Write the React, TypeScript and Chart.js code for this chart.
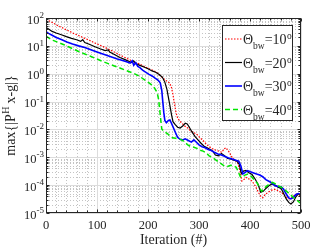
import React, { useEffect, useRef } from 'react';
import { Chart, registerables } from 'chart.js';
Chart.register(...registerables);

// ---------- data ----------
const X_TICKS = [0, 100, 200, 300, 400, 500];
const Y_DECADES = [-5, -4, -3, -2, -1, 0, 1, 2];
const LEGEND_ANGLES = ['10', '20', '30', '40'];

const ITER_10 = [0,8,16,25,35,45,55,65,75,85,95,105,115,125,135,145,155,165,175,180,185,195,205,212,218,225,232,238,243,246,249,252,255,258,262,267,272,278,284,290,296,302,308,314,320,327,333,339,345,349,353,358,364,370,376,380,384,388,392,398,404,410,415,420,425,430,436,443,450,457,463,469,475,480,486,492,497,500];
const VAL_10 = [89,76,63,51,42,34,27.5,23,19,15.8,12.9,10.7,8.9,7.2,5.9,4.7,3.8,3.1,2.5,2.4,2.14,1.74,1.41,1.26,1.07,0.83,0.63,0.52,0.45,0.32,0.178,0.079,0.040,0.026,0.020,0.0166,0.0132,0.0112,0.0087,0.0076,0.0066,0.0050,0.0040,0.0030,0.0024,0.0020,0.0018,0.00166,0.00151,0.0020,0.0022,0.00166,0.00105,7.9e-4,6.3e-4,3.5e-4,1.41e-4,1.58e-4,1.9e-4,1.66e-4,1.41e-4,9.5e-5,6.3e-5,4.2e-5,3.5e-5,4.7e-5,5.6e-5,6.6e-5,7.1e-5,6.0e-5,5.2e-5,4.0e-5,3.2e-5,3.3e-5,4.2e-5,4.8e-5,4.4e-5,4.0e-5];

const ITER_20 = [0,5,12,20,30,40,50,60,68,72,76,86,96,106,116,122,125,135,145,155,163,168,172,176,184,192,200,208,216,222,228,233,237,240,243,246,249,253,258,263,268,273,277,281,286,292,298,304,310,316,322,327,332,338,344,350,356,362,368,374,379,383,387,392,398,404,410,416,421,426,431,437,443,449,455,461,466,471,476,480,485,490,495,500];
const VAL_20 = [46,40,33,29,25,21.4,18.6,16.6,14.5,16.6,13.2,11.2,9.3,7.9,6.8,7.2,6.0,4.8,3.8,3.2,2.75,2.5,2.9,2.3,2.0,1.74,1.51,1.26,1.10,0.93,0.76,0.50,0.28,0.141,0.071,0.035,0.019,0.0151,0.0120,0.0112,0.0132,0.0166,0.0158,0.0120,0.0083,0.0056,0.0042,0.0032,0.0025,0.0022,0.0019,0.00166,0.0012,0.00112,0.00138,0.00115,9.1e-4,8.7e-4,7.9e-4,7.4e-4,5.6e-4,2.6e-4,3.2e-4,3.4e-4,2.8e-4,2.4e-4,1.66e-4,1.05e-4,5.6e-5,6.0e-5,7.6e-5,9.5e-5,1.1e-4,1.0e-4,8.5e-5,7.6e-5,5.0e-5,3.2e-5,2.4e-5,2.1e-5,2.5e-5,3.8e-5,5.0e-5,4.2e-5];

const ITER_30 = [0,5,12,20,30,41,52,64,76,88,100,110,120,130,140,150,158,165,169,172,176,180,184,190,196,202,208,214,220,224,227,229,231,233,236,240,243,246,250,254,258,263,268,273,279,285,290,295,300,306,312,318,324,330,337,344,351,358,365,372,378,382,386,390,395,401,407,413,419,425,431,437,443,449,455,461,466,471,476,480,485,490,495,500];
const VAL_30 = [32,28,24,20,17,13.8,11.7,10,8.7,7.2,6.0,5.2,4.5,3.9,3.4,3.0,2.7,2.4,2.9,2.0,2.5,1.82,1.66,1.32,1.12,0.95,0.83,0.69,0.58,0.47,0.25,0.10,0.040,0.021,0.0174,0.021,0.022,0.0166,0.0112,0.0076,0.0052,0.0044,0.0042,0.0046,0.0040,0.0035,0.0042,0.00347,0.0028,0.0024,0.0022,0.0019,0.00174,0.00151,0.00132,0.0012,0.00107,9.5e-4,8.7e-4,7.9e-4,7.2e-4,5.0e-4,2.5e-4,2.8e-4,3.3e-4,3.0e-4,2.75e-4,2.5e-4,2.3e-4,2.0e-4,1.58e-4,1.38e-4,1.2e-4,9.5e-5,8.9e-5,8.7e-5,7.1e-5,4.8e-5,3.5e-5,3.2e-5,3.6e-5,4.6e-5,5.0e-5,4.5e-5];

const ITER_40 = [0,6,14,24,34,44,54,64,75,86,98,110,122,134,146,158,168,176,184,192,200,207,213,218,221,223,225,227,230,234,238,243,248,254,260,266,272,278,284,290,296,302,308,314,320,326,332,338,344,350,356,362,368,373,377,381,385,390,396,402,408,414,419,423,427,432,438,444,450,456,462,468,474,480,486,492,497,500];
const VAL_40 = [22.4,19,15.8,13.2,11.2,9.3,7.6,6.3,5.2,4.3,3.5,2.8,2.3,1.9,1.58,1.29,1.10,0.95,0.79,0.63,0.50,0.40,0.30,0.21,0.112,0.050,0.022,0.0105,0.0089,0.0079,0.0071,0.0058,0.0050,0.0048,0.0046,0.0042,0.0035,0.0028,0.0024,0.0023,0.0021,0.0018,0.00166,0.00145,0.00112,0.0010,8.3e-4,6.9e-4,5.8e-4,4.8e-4,4.7e-4,5.2e-4,4.9e-4,4.4e-4,3.0e-4,2.0e-4,1.9e-4,2.3e-4,2.5e-4,2.1e-4,1.58e-4,1.2e-4,7.9e-5,6.0e-5,7.2e-5,9.1e-5,1.1e-4,1.26e-4,1.1e-4,9.3e-5,8.3e-5,6.9e-5,5.5e-5,4.4e-5,3.5e-5,2.9e-5,2.4e-5,2.2e-5];

// ---------- styles ----------
const SERIF = "'Liberation Serif', 'Times New Roman', serif";
const AXIS_COLOR = '#262626';
const MAJOR_GRID = '#dcdcdc';
const MINOR_GRID = '#c4c4c4';

const STYLES = [
  { color: '#ff0000', width: 1.2, dash: [1.5, 1.5] },
  { color: '#000000', width: 1.2, dash: [] as number[] },
  { color: '#0000ff', width: 1.6, dash: [] as number[] },
  { color: '#00e600', width: 1.5, dash: [5, 3] },
];

const zip = (xs: number[], ys: number[]) => {
  const n = Math.min(xs.length, ys.length);
  const out: { x: number; y: number }[] = [];
  for (let i = 0; i < n; i++) out.push({ x: xs[i], y: ys[i] });
  return out;
};

const SERIES = [zip(ITER_10, VAL_10), zip(ITER_20, VAL_20), zip(ITER_30, VAL_30), zip(ITER_40, VAL_40)];

const crisp = (v: number) => Math.round(v) + 0.5;

const axesPlugin = {
  id: 'matlabAxes',
  beforeDatasetsDraw(chart: any) {
    const { ctx, chartArea: a, scales } = chart;
    const xs = scales.x;
    const ys = scales.y;
    ctx.save();
    ctx.fillStyle = '#ffffff';
    ctx.fillRect(a.left, a.top, a.right - a.left, a.bottom - a.top);
    // minor grid (dotted)
    ctx.strokeStyle = MINOR_GRID;
    ctx.lineWidth = 1;
    ctx.setLineDash([1, 2]);
    ctx.beginPath();
    for (let i = 0; i < X_TICKS.length - 1; i++) {
      const step = (X_TICKS[i + 1] - X_TICKS[i]) / 5;
      for (let k = 1; k < 5; k++) {
        const px = crisp(xs.getPixelForValue(X_TICKS[i] + k * step));
        ctx.moveTo(px, a.top);
        ctx.lineTo(px, a.bottom);
      }
    }
    for (let d = 0; d < Y_DECADES.length - 1; d++) {
      for (let m = 2; m <= 9; m++) {
        const py = crisp(ys.getPixelForValue(m * Math.pow(10, Y_DECADES[d])));
        ctx.moveTo(a.left, py);
        ctx.lineTo(a.right, py);
      }
    }
    ctx.stroke();
    // major grid
    ctx.setLineDash([]);
    ctx.strokeStyle = MAJOR_GRID;
    ctx.beginPath();
    X_TICKS.forEach((v) => {
      const px = crisp(xs.getPixelForValue(v));
      ctx.moveTo(px, a.top);
      ctx.lineTo(px, a.bottom);
    });
    Y_DECADES.forEach((e) => {
      const py = crisp(ys.getPixelForValue(Math.pow(10, e)));
      ctx.moveTo(a.left, py);
      ctx.lineTo(a.right, py);
    });
    ctx.stroke();
    ctx.restore();
  },
  afterDatasetsDraw(chart: any) {
    const { ctx, chartArea: a, scales } = chart;
    const xs = scales.x;
    const ys = scales.y;
    ctx.save();
    ctx.setLineDash([]);
    ctx.strokeStyle = AXIS_COLOR;
    ctx.lineWidth = 1;
    const L = crisp(a.left), R = crisp(a.right - 1), T = crisp(a.top), B = crisp(a.bottom - 1);
    ctx.strokeRect(L, T, R - L, B - T);
    // ticks
    ctx.beginPath();
    X_TICKS.forEach((v) => {
      const px = crisp(xs.getPixelForValue(v));
      ctx.moveTo(px, B); ctx.lineTo(px, B - 3);
      ctx.moveTo(px, T); ctx.lineTo(px, T + 3);
    });
    for (let i = 0; i < X_TICKS.length - 1; i++) {
      const step = (X_TICKS[i + 1] - X_TICKS[i]) / 5;
      for (let k = 1; k < 5; k++) {
        const px = crisp(xs.getPixelForValue(X_TICKS[i] + k * step));
        ctx.moveTo(px, B); ctx.lineTo(px, B - 2);
        ctx.moveTo(px, T); ctx.lineTo(px, T + 2);
      }
    }
    Y_DECADES.forEach((e) => {
      const py = crisp(ys.getPixelForValue(Math.pow(10, e)));
      ctx.moveTo(L, py); ctx.lineTo(L + 3, py);
      ctx.moveTo(R, py); ctx.lineTo(R - 3, py);
    });
    for (let d = 0; d < Y_DECADES.length - 1; d++) {
      for (let m = 2; m <= 9; m++) {
        const py = crisp(ys.getPixelForValue(m * Math.pow(10, Y_DECADES[d])));
        ctx.moveTo(L, py); ctx.lineTo(L + 2, py);
        ctx.moveTo(R, py); ctx.lineTo(R - 2, py);
      }
    }
    ctx.stroke();

    // tick labels
    ctx.fillStyle = AXIS_COLOR;
    ctx.textBaseline = 'alphabetic';
    ctx.font = `12.5px ${SERIF}`;
    ctx.textAlign = 'center';
    X_TICKS.forEach((v) => {
      ctx.fillText(String(v), xs.getPixelForValue(v), a.bottom + 15.5);
    });
    ctx.textAlign = 'left';
    Y_DECADES.forEach((e) => {
      const py = ys.getPixelForValue(Math.pow(10, e));
      const exp = String(e);
      ctx.font = `9px ${SERIF}`;
      const we = ctx.measureText(exp).width;
      ctx.font = `12.5px ${SERIF}`;
      const wb = ctx.measureText('10').width;
      const xEnd = a.left - 2;
      ctx.fillText('10', xEnd - we - wb, py + 5.5);
      ctx.font = `9px ${SERIF}`;
      ctx.fillText(exp, xEnd - we, py);
    });

    // axis titles
    ctx.font = `14px ${SERIF}`;
    ctx.textAlign = 'center';
    ctx.fillText('Iteration (#)', (a.left + a.right) / 2, a.bottom + 31);
    // y title with superscript
    ctx.save();
    ctx.translate(14.5, (a.top + a.bottom) / 2);
    ctx.rotate(-Math.PI / 2);
    ctx.textAlign = 'left';
    const p1 = 'max{|P';
    const p2 = 'H';
    const p3 = ' x-g|}';
    ctx.font = `14px ${SERIF}`;
    const w1 = ctx.measureText(p1).width;
    const w3 = ctx.measureText(p3).width;
    ctx.font = `10px ${SERIF}`;
    const w2 = ctx.measureText(p2).width;
    let cx = -(w1 + w2 + w3) / 2;
    ctx.font = `14px ${SERIF}`;
    ctx.fillText(p1, cx, 0);
    cx += w1;
    ctx.font = `10px ${SERIF}`;
    ctx.fillText(p2, cx + 0.5, -6);
    cx += w2;
    ctx.font = `14px ${SERIF}`;
    ctx.fillText(p3, cx, 0);
    ctx.restore();

    // legend
    const lx0 = 222.5, ly0 = 25.5, lw = 70, lh = 95;
    ctx.fillStyle = '#ffffff';
    ctx.fillRect(lx0, ly0, lw, lh);
    ctx.strokeStyle = AXIS_COLOR;
    ctx.lineWidth = 1;
    ctx.strokeRect(lx0, ly0, lw, lh);
    LEGEND_ANGLES.forEach((ang, i) => {
      const st = STYLES[i];
      const yy = 39 + i * 23.5;
      ctx.save();
      ctx.strokeStyle = st.color;
      ctx.lineWidth = st.width;
      ctx.setLineDash(st.dash);
      ctx.beginPath();
      ctx.moveTo(225, yy);
      ctx.lineTo(242, yy);
      ctx.stroke();
      ctx.restore();
      ctx.fillStyle = AXIS_COLOR;
      ctx.textAlign = 'left';
      let tx = 243;
      ctx.font = `14px ${SERIF}`;
      ctx.fillText('\u0398', tx, yy + 5);
      tx += ctx.measureText('\u0398').width;
      ctx.font = `9.5px ${SERIF}`;
      ctx.fillText('bw', tx, yy + 10);
      tx += ctx.measureText('bw').width;
      ctx.font = `14px ${SERIF}`;
      const main = '=' + ang;
      ctx.fillText(main, tx, yy + 5);
      tx += ctx.measureText(main).width;
      ctx.font = `9.5px ${SERIF}`;
      ctx.fillText('o', tx + 0.5, yy);
    });
    ctx.restore();
  },
};

export default function App() {
  const ref = useRef<HTMLCanvasElement | null>(null);
  useEffect(() => {
    if (!ref.current) return;
    const chart = new Chart(ref.current, {
      type: 'line',
      data: {
        datasets: SERIES.map((pts, i) => ({
          label: LEGEND_ANGLES[i],
          data: pts,
          borderColor: STYLES[i].color,
          borderWidth: STYLES[i].width,
          borderDash: STYLES[i].dash,
          pointRadius: 0,
          tension: 0,
          fill: false,
          order: 3 - i,
        })),
      },
      options: {
        animation: false,
        responsive: false,
        devicePixelRatio: 1,
        layout: { padding: { left: 46, top: 18, right: 31, bottom: 36 } },
        plugins: { legend: { display: false }, tooltip: { enabled: false } },
        scales: {
          x: { type: 'linear', min: 0, max: 500, display: false },
          y: { type: 'logarithmic', min: 1e-5, max: 1e2, display: false },
        },
      },
      plugins: [axesPlugin],
    });
    return () => chart.destroy();
  }, []);
  return (
    <div style={{ position: 'fixed', left: 0, top: 0, width: 332, height: 249, background: '#fff' }}>
      <canvas ref={ref} width={332} height={249} style={{ display: 'block' }} />
    </div>
  );
}
